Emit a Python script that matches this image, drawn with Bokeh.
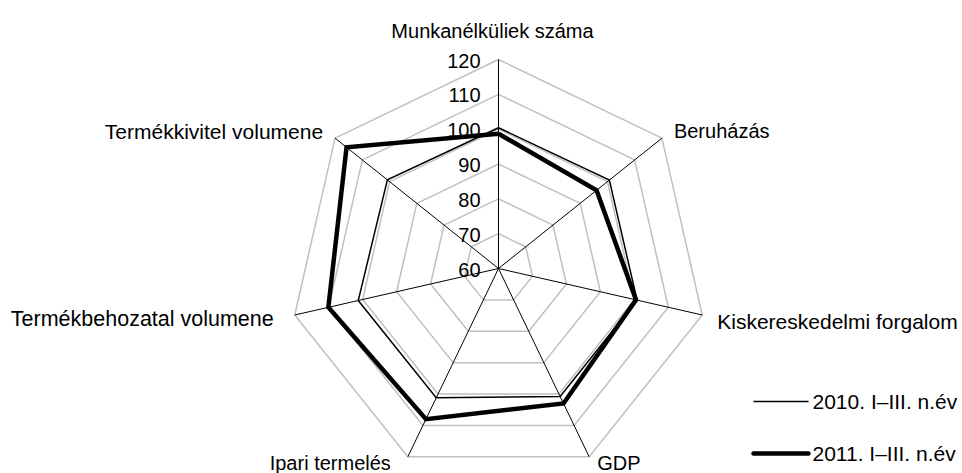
import math
from bokeh.plotting import figure
from bokeh.models import Range1d
from bokeh.core.properties import value
from bokeh.embed import file_html
from bokeh.resources import INLINE

categories = ["Munkanélküliek száma", "Beruházás", "Kiskereskedelmi forgalom", "GDP",
              "Ipari termelés", "Termékbehozatal volumene", "Termékkivitel volumene"]
series_2010 = [100.4, 100.7, 100.8, 100.8, 101.2, 101.3, 100.8]
series_2011 = [98.7, 96.0, 100.5, 103.0, 108.0, 110.1, 115.8]
series_names = ["2010. I–III. n.év", "2011. I–III. n.év"]
tick_values = [60, 70, 80, 90, 100, 110, 120]

FONT = "Liberation Sans"
W, H = 962, 473
# coordinates: data x = image x, data y = 473 - image y
CX, CY = 498, 473 - 268
RMIN, RMAX = 60, 120
RPX = 209.0

n = len(categories)
angles = [math.pi / 2 - 2 * math.pi * k / n for k in range(n)]


def pt(v, a):
    r = (v - RMIN) / (RMAX - RMIN) * RPX
    return CX + r * math.cos(a), CY + r * math.sin(a)


p = figure(width=W, height=H, output_backend="svg", toolbar_location=None,
           x_range=Range1d(0, W), y_range=Range1d(0, H), min_border=0)
p.axis.visible = False
p.grid.visible = False
p.outline_line_color = None
p.background_fill_color = "white"

# grid polygons
for t in tick_values[1:]:
    xs, ys = zip(*[pt(t, a) for a in angles])
    p.line(list(xs) + [xs[0]], list(ys) + [ys[0]], line_color="#c0c0c0", line_width=1.5)

# spokes
for a in angles:
    x1, y1 = pt(RMAX, a)
    p.line([CX, x1], [CY, y1], line_color="black", line_width=1)

# tick labels
tx, ty = [], []
for t in tick_values:
    x, y = pt(t, angles[0])
    tx.append(x - 18)
    ty.append(y - 1)
p.text(x=tx, y=ty, text=[str(t) for t in tick_values], text_font=value(FONT),
       text_font_size="20px", text_align="right", text_baseline="middle", text_color="black")

# series
for vals, lw in [(series_2010, 1.5), (series_2011, 4.5)]:
    xs, ys = zip(*[pt(v, a) for v, a in zip(vals, angles)])
    p.line(list(xs) + [xs[0]], list(ys) + [ys[0]], line_color="black", line_width=lw,
           line_join="miter")

# category labels: offsets from 120-level vertex (layout)
offsets = [(-6, 29, "center", "20px"), (12, 7, "left", "20px"), (15, -6, "left", "21px"),
           (8, -6, "left", "20px"), (-17, -6, "right", "20px"),
           (-21, -4, "right", "21.5px"), (-12, 7, "right", "21px")]
for cat, a, (dx, dy, al, fs) in zip(categories, angles, offsets):
    x, y = pt(RMAX, a)
    p.text(x=[x + dx], y=[y + dy], text=[cat], text_font=value(FONT), text_font_size=fs,
           text_align=al, text_baseline="middle", text_color="black")

# legend
leg_y = [473 - 401, 473 - 453]
for name, lw, ly in zip(series_names, [1.5, 4.5], leg_y):
    p.line([753, 808], [ly, ly], line_color="black", line_width=lw,
           line_cap="round" if lw > 2 else "butt")
    p.text(x=[812], y=[ly], text=[name], text_font=value(FONT), text_font_size="21px",
           text_align="left", text_baseline="middle", text_color="black")

open("out.html", "w").write(file_html(p, INLINE))
